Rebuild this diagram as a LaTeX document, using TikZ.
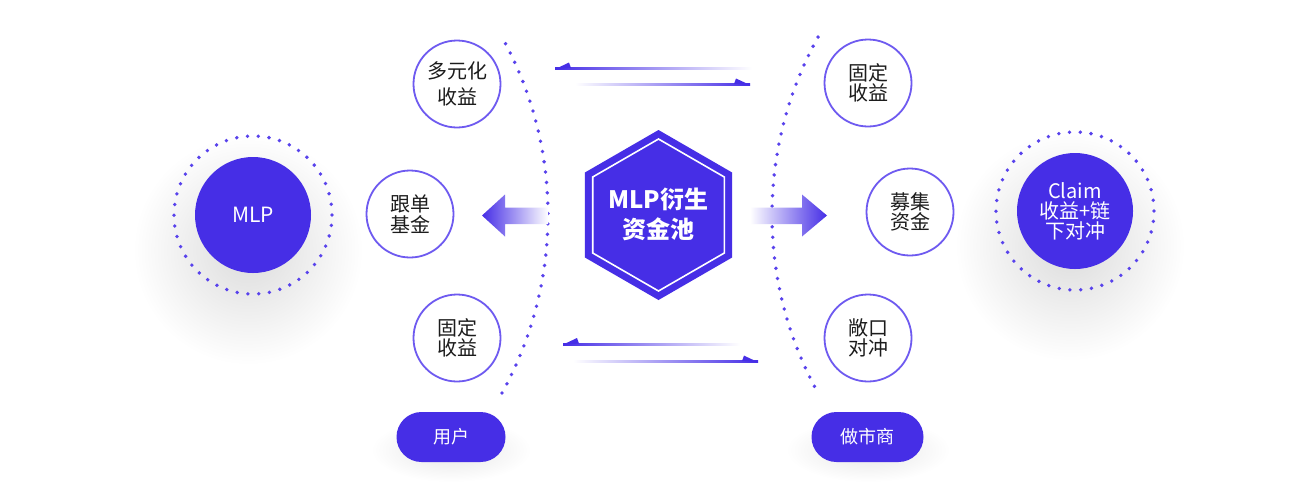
\documentclass[tikz,border=0pt]{standalone}
\usepackage{fontspec}
\setmainfont{Noto Sans CJK SC}
\usetikzlibrary{shapes.misc}
\definecolor{main}{RGB}{70,46,230}
\definecolor{ringc}{RGB}{110,90,240}
\definecolor{dotc}{RGB}{88,66,236}
\definecolor{txt}{RGB}{28,28,28}
\tikzset{
  smallcirc/.style={circle, draw=ringc, line width=1.8pt, fill=white, minimum size=87pt, inner sep=0pt,
    text=txt, align=center, font=\fontsize{20}{20.5}\selectfont},
  fillcirc/.style={circle, fill=main, minimum size=116pt, inner sep=0pt, text=white, align=center},
  pillbox/.style={rounded rectangle, fill=main, minimum height=50pt, inner sep=0pt, text=white,
    font=\fontsize{18}{18}\selectfont},
  dotring/.style={dotc, line width=3.8pt, line cap=round, dash pattern=on 0pt off 10.8pt},
  dotarc/.style={dotc, line width=3.8pt, line cap=round, dash pattern=on 0pt off 10.4pt},
  barb/.style={fill=main},
}
\begin{document}
\begin{tikzpicture}[x=1pt,y=-1pt]
\useasboundingbox (0,0) rectangle (1305,491);
\fill[white] (0,0) rectangle (1305,491);
% soft shadows
\shade[inner color=black!14, outer color=white] (248,250) circle[radius=115pt];
\shade[inner color=black!14, outer color=white] (1070,246) circle[radius=115pt];
\shade[inner color=black!10, outer color=white] (451,450) ellipse[x radius=80pt, y radius=32pt];
\shade[inner color=black!10, outer color=white] (868,450) ellipse[x radius=82pt, y radius=32pt];

% dotted arcs
\draw[dotarc] (181,215) ++(-29:367pt) arc[start angle=-29, end angle=29, radius=367pt];
\draw[dotarc] (1139,215) ++(151:367pt) arc[start angle=151, end angle=209, radius=367pt];

% left side
\node[fillcirc, font=\fontsize{21}{21}\selectfont] (mlp) at (253,215) {MLP};
\draw[dotring] (mlp.center) circle[radius=79pt];
\node[smallcirc] (c1) at (457,84) {多元化\\[5pt]收益};
\node[smallcirc] (c2) at (410,214) {跟单\\基金};
\node[smallcirc] (c3) at (457,338) {固定\\收益};
\node[pillbox, minimum width=109pt] (user) at (451,437) {用户};

% right side
\node[fillcirc, font=\fontsize{20}{20}\selectfont] (claim) at (1075,211) {Claim\\收益+链\\下对冲};
\draw[dotring] (claim.center) circle[radius=79pt];
\node[smallcirc] (r1) at (868,83) {固定\\收益};
\node[smallcirc] (r2) at (910,212) {募集\\资金};
\node[smallcirc] (r3) at (868,338) {敞口\\对冲};
\node[pillbox, minimum width=112pt] (mm) at (867.5,437) {做市商};

% hexagon
\fill[main] (658.5,130) -- (732.1,172.5) -- (732.1,257.5) -- (658.5,300) -- (584.9,257.5) -- (584.9,172.5) -- cycle;
\draw[white, line width=1.6pt] (658.5,139) -- (724.3,177) -- (724.3,253) -- (658.5,291) -- (592.7,253) -- (592.7,177) -- cycle;
\node[text=white, align=center, font=\bfseries\fontsize{24}{30}\selectfont] (pool) at (658.5,214) {MLP衍生\\资金池};

% big gradient arrows
\shade[left color=main, right color=white] (482,215.5) -- (505,194.5) -- (505,207.5) -- (548,207.5) -- (548,224) -- (505,224) -- (505,236.5) -- cycle;
\shade[left color=white, right color=main] (827,215.5) -- (802,194.5) -- (802,207.5) -- (750,207.5) -- (750,224) -- (802,224) -- (802,236.5) -- cycle;

% thin harpoon arrows
\shade[left color=main, middle color=main!60, right color=white] (555,67.6) rectangle (752,69.6);
\fill[barb] (555,69.2) -- (569,62.5) -- (571,68) -- cycle;
\shade[left color=white, middle color=main!60, right color=main] (575,83.4) rectangle (750,85.4);
\fill[barb] (750,85) -- (736,78.5) -- (734,84) -- cycle;
\shade[left color=main, middle color=main!60, right color=white] (563,343) rectangle (740,345);
\fill[barb] (563,344.6) -- (577,338) -- (579,343.5) -- cycle;
\shade[left color=white, middle color=main!60, right color=main] (573,360.6) rectangle (758,362.6);
\fill[barb] (758,362.2) -- (744,355.6) -- (742,361) -- cycle;
\end{tikzpicture}
\end{document}
